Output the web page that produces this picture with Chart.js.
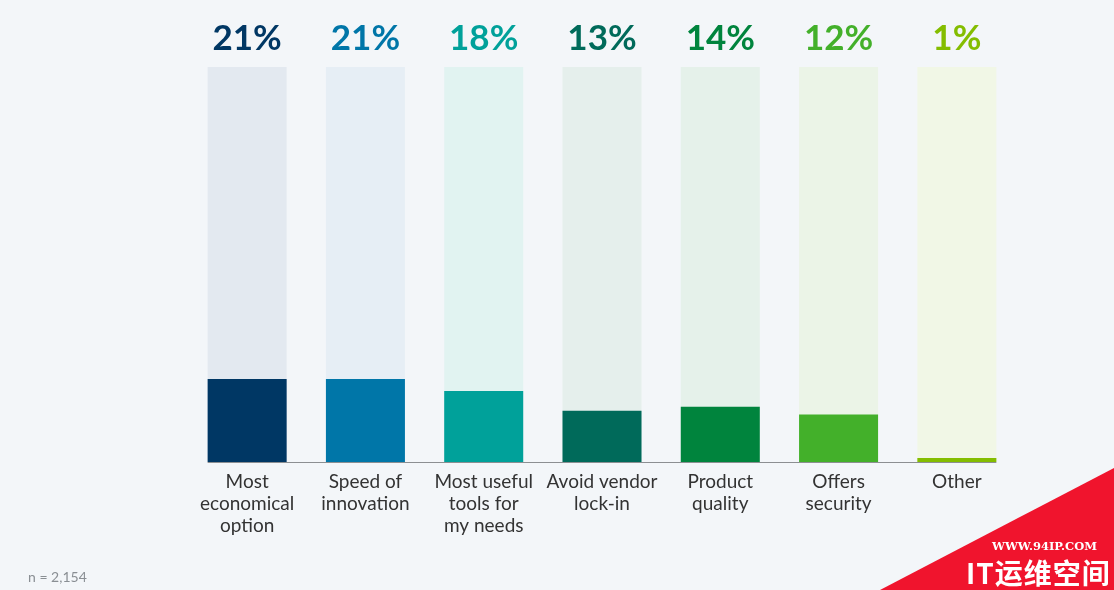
<!DOCTYPE html>
<html>
<head>
<meta charset="utf-8">
<script src="https://cdn.jsdelivr.net/npm/chart.js@4"></script>
<style>
  html, body { margin: 0; padding: 0; background: #f3f6f9; }
  #wrap { position: relative; width: 1114px; height: 590px; overflow: hidden; }
  #note { position: absolute; left: 28px; top: 568px; font: 14px Lato, sans-serif; color: #8a8f94; white-space: nowrap; }
  #wm { position: absolute; left: 0; top: 0; width: 1114px; height: 590px; pointer-events: none; }
  #wm1 { position: absolute; left: 992px; top: 539px; font: bold 11.5px "DejaVu Serif", serif; color: #fff; white-space: nowrap; }
  #wm2 { position: absolute; left: 966px; top: 555px; font: bold 28px "Noto Sans CJK SC", sans-serif; color: #fff; letter-spacing: 1px; line-height: 34px; white-space: nowrap; }
</style>
</head>
<body>
<div id="wrap">
  <canvas id="c" width="1114" height="590"></canvas>
  <div id="note">n = 2,154</div>
  <svg id="wm" width="1114" height="590"><polygon points="880,590 1114,468 1114,590" fill="#f0142d"/></svg>
  <div id="wm1">WWW.94IP.COM</div>
  <div id="wm2">IT运维空间</div>
</div>
<script>
const categories = [
  ["Most", "economical", "option"],
  ["Speed of", "innovation"],
  ["Most useful", "tools for", "my needs"],
  ["Avoid vendor", "lock-in"],
  ["Product", "quality"],
  ["Offers", "security"],
  ["Other"]
];
const values = [21, 21, 18, 13, 14, 12, 1];
const fullValues = [100, 100, 100, 100, 100, 100, 100];
const barColors = ["#003764", "#0076a8", "#00a19a", "#006a5a", "#00843d", "#43b02a", "#84bd00"];
const trackColors = ["#e3e9f0", "#e6eef5", "#e1f3f1", "#e5efec", "#e5f1ea", "#ebf4e7", "#f1f7e6"];
const valueLabels = ["21%", "21%", "18%", "13%", "14%", "12%", "1%"];

const topLabels = {
  id: 'topLabels',
  afterDatasetsDraw(chart) {
    const ctx = chart.ctx;
    const meta = chart.getDatasetMeta(0);
    ctx.save();
    ctx.font = 'bold 35px Lato, sans-serif';
    ctx.textAlign = 'center';
    ctx.textBaseline = 'middle';
    meta.data.forEach((bar, i) => {
      ctx.fillStyle = barColors[i];
      ctx.fillText(valueLabels[i], bar.x, 39);
    });
    const y0 = chart.scales.y.getPixelForValue(0);
    const first = meta.data[0], last = meta.data[meta.data.length - 1];
    ctx.strokeStyle = '#8c8f92';
    ctx.lineWidth = 1;
    ctx.beginPath();
    ctx.moveTo(first.x - first.width / 2, y0 + 0.5);
    ctx.lineTo(last.x + last.width / 2, y0 + 0.5);
    ctx.stroke();
    ctx.restore();
  }
};

new Chart(document.getElementById('c'), {
  type: 'bar',
  data: {
    labels: categories,
    datasets: [
      { data: values, backgroundColor: barColors, order: 1, grouped: false,
        barPercentage: 0.668, categoryPercentage: 1 },
      { data: fullValues, backgroundColor: trackColors, order: 2, grouped: false,
        barPercentage: 0.668, categoryPercentage: 1 }
    ]
  },
  options: {
    responsive: false,
    animation: false,
    events: [],
    layout: { padding: { left: 188, right: 98, top: 67, bottom: 0 } },
    plugins: { legend: { display: false }, tooltip: { enabled: false } },
    scales: {
      x: {
        grid: { display: false },
        border: { display: false },
        ticks: {
          color: '#333',
          font: { family: 'Lato, sans-serif', size: 19, lineHeight: 1.16 },
          padding: 1,
          maxRotation: 0,
          autoSkip: false
        },
        afterFit(scale) { scale.height = 128; }
      },
      y: { display: false, min: 0, max: 100 }
    }
  },
  plugins: [topLabels]
});
</script>
</body>
</html>
